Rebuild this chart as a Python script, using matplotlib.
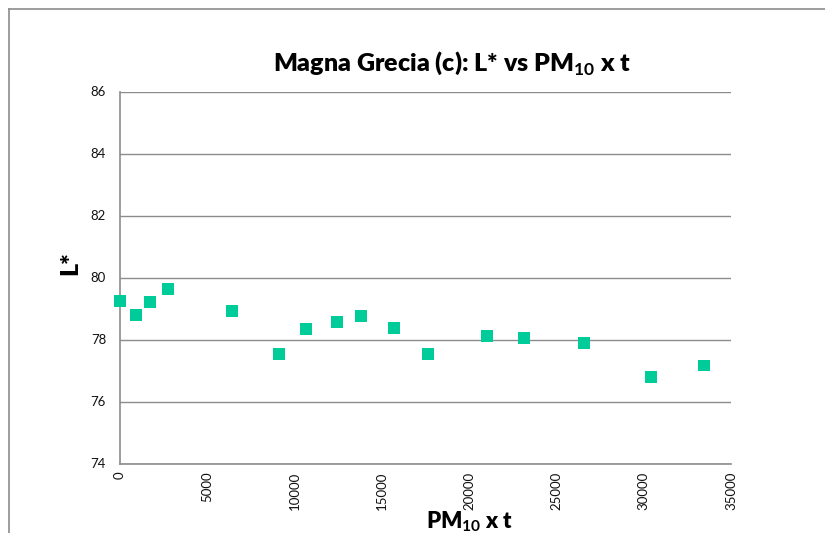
import matplotlib
matplotlib.use("Agg")
import matplotlib.pyplot as plt
from matplotlib.lines import Line2D

plt.rcParams['font.family'] = ['Lato', 'DejaVu Sans']
plt.rcParams['mathtext.fontset'] = 'custom'
plt.rcParams['mathtext.rm'] = 'Lato'
plt.rcParams['mathtext.bf'] = 'Lato:bold'

# Data
pm10_t = [0, 917, 1718, 2768, 6434, 9108, 10655, 12430, 13788, 15713,
          17643, 21004, 23160, 26563, 30416, 33475]
l_star = [79.25, 78.79, 79.22, 79.63, 78.92, 77.54, 78.33, 78.56, 78.76, 78.38,
          77.54, 78.12, 78.06, 77.88, 76.78, 77.16]
x_ticks = [0, 5000, 10000, 15000, 20000, 25000, 30000, 35000]
y_ticks = [74, 76, 78, 80, 82, 84, 86]

W, H = 825, 533
fig = plt.figure(figsize=(W / 100, H / 100), dpi=100)
fig.patch.set_facecolor('white')

# chart frame (top & left visible)
fx0, fy0 = 8.5 / W, 1 - 8.5 / H
fig.add_artist(Line2D([fx0, 1.0], [fy0, fy0], transform=fig.transFigure, color='#8c8c8c', lw=1.2))
fig.add_artist(Line2D([fx0, fx0], [0, fy0], transform=fig.transFigure, color='#8c8c8c', lw=1.2))

ax = fig.add_axes([120 / W, 1 - 463.5 / H, (731 - 120) / W, (463.5 - 91.5) / H])
ax.scatter(pm10_t, l_star, marker='s', s=72, color='#00CC99', edgecolors='none',
           zorder=3, clip_on=False)

ax.set_xlim(0, 35000)
ax.set_ylim(74, 86)
ax.set_xticks(x_ticks)
ax.set_yticks(y_ticks)
ax.set_xticklabels([str(v) for v in x_ticks], rotation=90, va='top', ha='center')
ax.tick_params(axis='both', length=0, labelsize=9.5, colors='#111111')
ax.tick_params(axis='y', pad=10)
ax.tick_params(axis='x', pad=6)
ax.grid(axis='y', color='#8c8c8c', lw=1.0)
ax.set_axisbelow(True)
for s in ['top', 'right']:
    ax.spines[s].set_visible(False)
for s in ['left', 'bottom']:
    ax.spines[s].set_color('#8c8c8c')
    ax.spines[s].set_linewidth(1.2)

fig.text(452 / W, 1 - 63 / H, r"Magna Grecia (c): L* vs PM$_\mathbf{10}$ x t",
         ha='center', va='center', fontsize=18, fontweight='heavy')
fig.text(70 / W, 1 - 263 / H, "L*", ha='center', va='center', rotation=90,
         fontsize=18, fontweight='heavy')
fig.text(470 / W, 1 - 522 / H, r"PM$_\mathbf{10}$ x t", ha='center', va='center',
         fontsize=16, fontweight='heavy')

fig.savefig('out.png', dpi=100)
